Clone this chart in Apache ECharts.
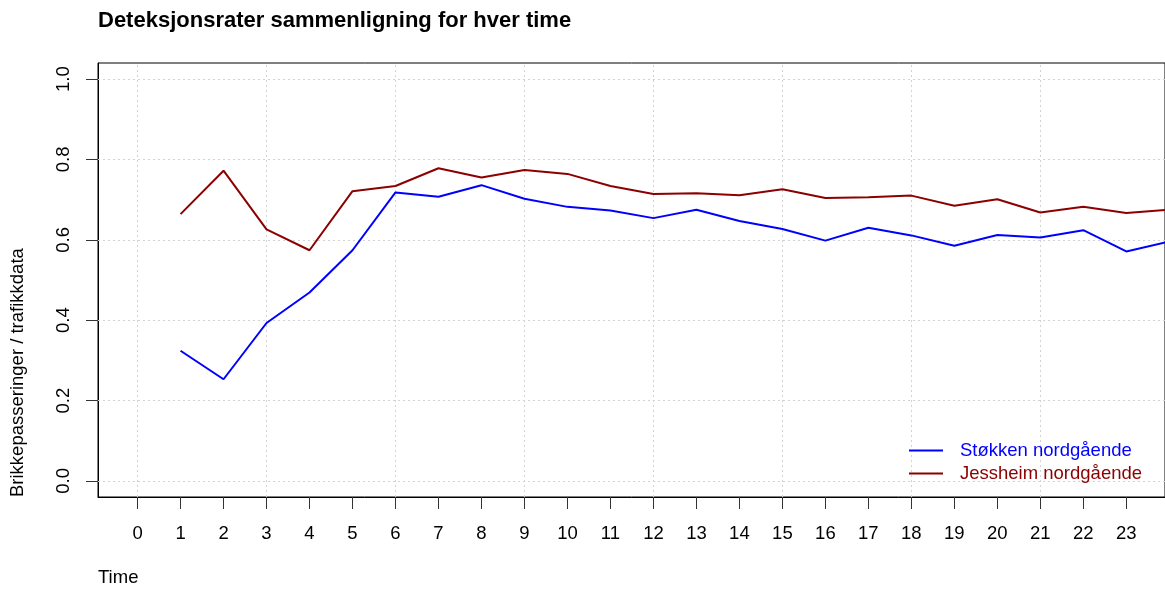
<!DOCTYPE html>
<html lang="no">
  <head>
    <meta charset="UTF-8" />
    <title>Deteksjonsrater</title>
    <style>
      body, html {
        margin: 0;
        width: 100%;
        height: 100%;
        background: #fff;
      }
    </style>
  </head>
  <body>
    <div id="main" style="width:1165px;height:590px;"></div>

    <script src="https://cdn.jsdelivr.net/npm/echarts@6/dist/echarts.min.js"></script>
    <script>
      // timer 1..24 (aksen viser 0..23)
      const hours = [1, 2, 3, 4, 5, 6, 7, 8, 9, 10, 11, 12, 13, 14, 15, 16, 17, 18, 19, 20, 21, 22, 23, 24];
      const stokken = [0.324, 0.253, 0.393, 0.469, 0.574, 0.718, 0.707, 0.736, 0.702, 0.682, 0.673, 0.654,
        0.675, 0.647, 0.627, 0.598, 0.630, 0.611, 0.585, 0.612, 0.606, 0.624, 0.571, 0.596];
      const jessheim = [0.664, 0.772, 0.626, 0.574, 0.721, 0.734, 0.778, 0.755, 0.774, 0.764, 0.734, 0.714,
        0.716, 0.711, 0.726, 0.704, 0.706, 0.710, 0.685, 0.701, 0.668, 0.682, 0.667, 0.675];
      const xTicks = [0, 1, 2, 3, 4, 5, 6, 7, 8, 9, 10, 11, 12, 13, 14, 15, 16, 17, 18, 19, 20, 21, 22, 23];
      const xGrid = [0, 3, 6, 9, 12, 15, 18, 21];
      const yTicks = [0, 0.2, 0.4, 0.6, 0.8, 1.0];

      const font = 'Liberation Sans, Arial, sans-serif';
      const fs = 18.5;
      const myChart = echarts.init(document.getElementById('main'));

      const gridLines = yTicks.map(v => ({ yAxis: v })).concat(xGrid.map(v => ({ xAxis: v })));

      const option = {
        animation: false,
        title: [
          {
            text: 'Deteksjonsrater sammenligning for hver time',
            left: 98,
            top: 10,
            padding: 0,
            textStyle: { fontFamily: font, fontSize: 22, fontWeight: 'bold', color: '#000' },
          },
          {
            text: 'Time',
            left: 98,
            top: 568,
            padding: 0,
            textStyle: { fontFamily: font, fontSize: fs, fontWeight: 'normal', color: '#000' },
          },
        ],
        graphic: [
          {
            type: 'text',
            x: 18,
            y: 497,
            rotation: Math.PI / 2,
            style: {
              text: 'Brikkepasseringer / trafikkdata',
              font: fs + 'px ' + font,
              fill: '#000',
              textAlign: 'left',
              textVerticalAlign: 'middle',
            },
          },
        ],
        grid: {
          left: 98,
          top: 63,
          right: -2,
          bottom: 93,
          show: true,
          borderColor: '#000',
          borderWidth: 1,
          containLabel: false,
        },
        legend: {
          orient: 'vertical',
          left: 909,
          top: 441,
          padding: 0,
          itemWidth: 34,
          itemHeight: 14,
          itemGap: 4,
          icon: 'path://M0,0 L34,0 L34,2 L0,2 Z',
          textStyle: { fontFamily: font, fontSize: fs, lineHeight: 19, padding: [0, 0, 0, 12] },
          data: [
            { name: 'Støkken nordgående', textStyle: { color: '#0000ff' } },
            { name: 'Jessheim nordgående', textStyle: { color: '#8b0000' } },
          ],
        },
        xAxis: {
          type: 'value',
          min: -0.92,
          max: 23.9,
          axisLine: { show: true, onZero: false, lineStyle: { color: '#000', width: 1 } },
          axisTick: { show: true, length: 12, customValues: xTicks, lineStyle: { color: '#333' } },
          axisLabel: { customValues: xTicks, margin: 27, fontFamily: font, fontSize: fs, color: '#000' },
          splitLine: { show: false },
        },
        yAxis: {
          type: 'value',
          min: -0.04,
          max: 1.04,
          axisLine: { show: true, onZero: false, lineStyle: { color: '#000', width: 1 } },
          axisTick: { show: true, length: 12, customValues: yTicks, lineStyle: { color: '#333' } },
          axisLabel: {
            customValues: yTicks,
            rotate: 90,
            margin: 25,
            fontFamily: font,
            fontSize: fs,
            color: '#000',
            formatter: v => v.toFixed(1),
          },
          splitLine: { show: false },
        },
        series: [
          {
            name: 'grid',
            type: 'line',
            data: [],
            z: 1,
            markLine: {
              z: 1,
              silent: true,
              symbol: 'none',
              label: { show: false },
              lineStyle: { color: '#d3d3d3', type: [2, 3], width: 1 },
              data: gridLines,
            },
          },
          {
            name: 'Støkken nordgående',
            type: 'line',
            z: 3,
            showSymbol: false,
            data: hours.map((h, i) => [h, stokken[i]]),
            lineStyle: { color: '#0000ff', width: 2 },
            itemStyle: { color: '#0000ff' },
          },
          {
            name: 'Jessheim nordgående',
            type: 'line',
            z: 3,
            showSymbol: false,
            data: hours.map((h, i) => [h, jessheim[i]]),
            lineStyle: { color: '#8b0000', width: 2 },
            itemStyle: { color: '#8b0000' },
          },
        ],
      };

      myChart.setOption(option);
    </script>
  </body>
</html>
